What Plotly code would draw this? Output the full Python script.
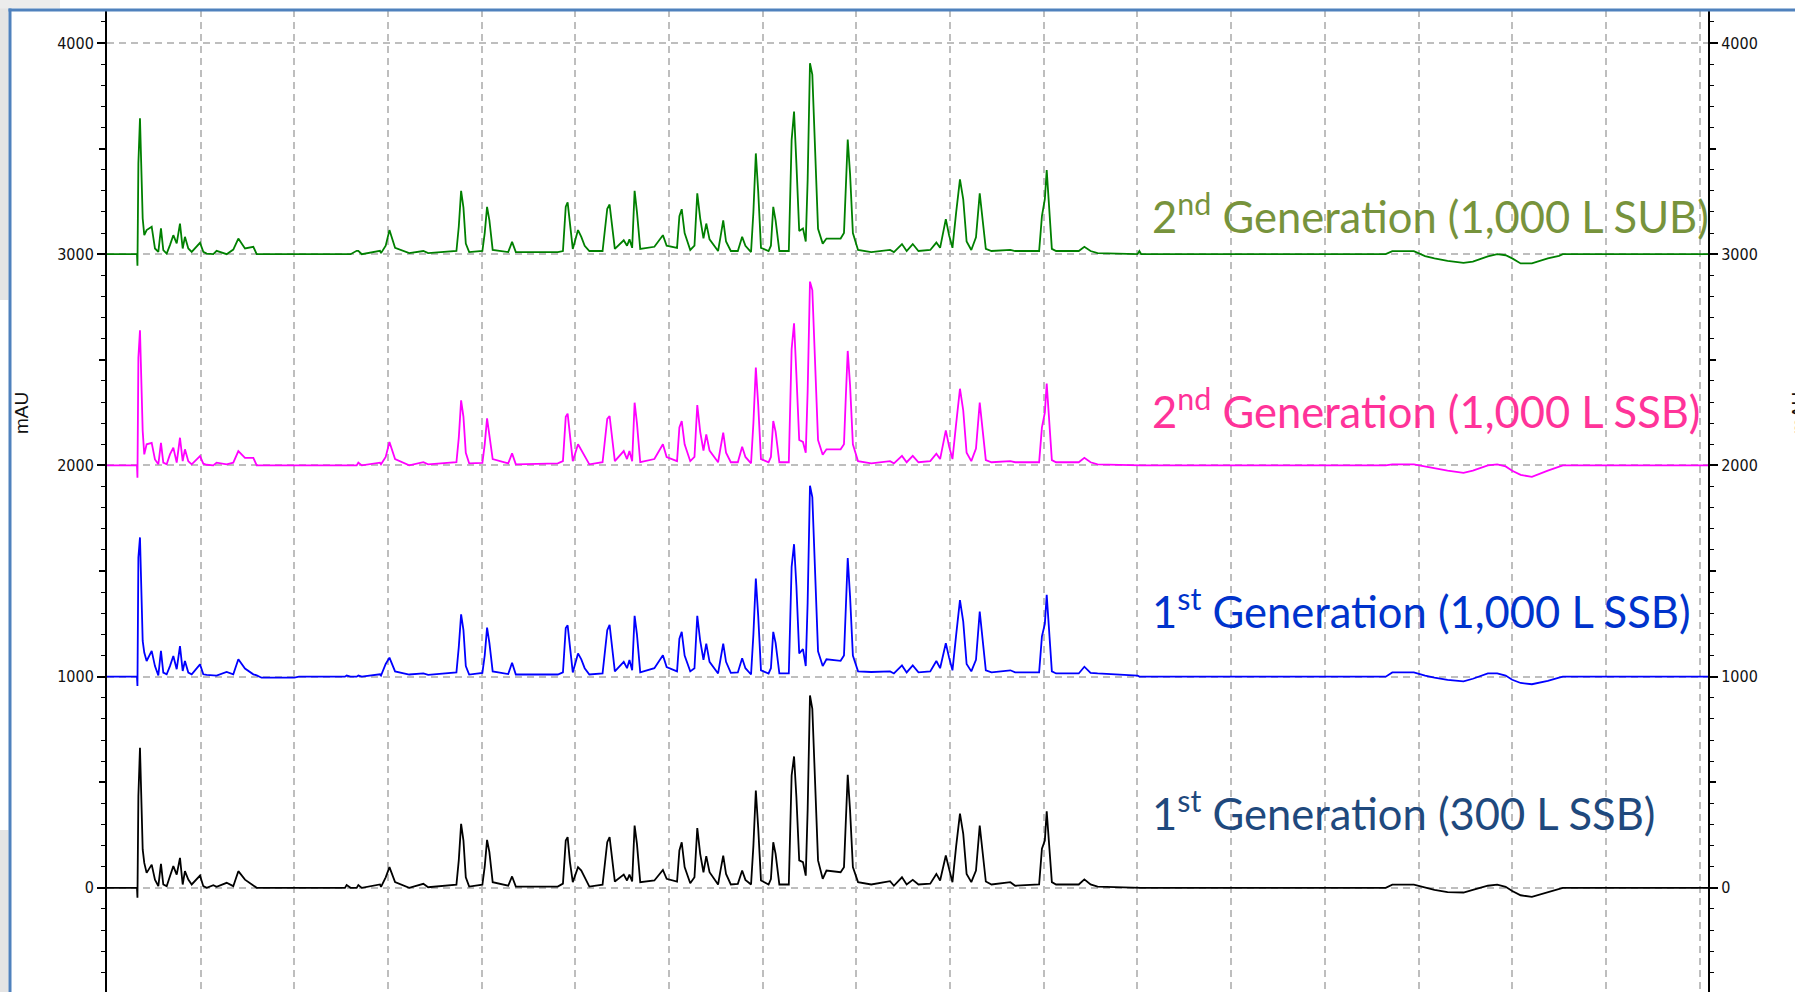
import plotly.graph_objects as go

# ---------------- data (retention time in grid units, absorbance in mAU) ----------------
rt = [0.00, 0.32, 0.325, 0.335, 0.352, 0.370, 0.381, 0.398, 0.423, 0.477,
      0.512, 0.548, 0.576, 0.601, 0.637, 0.672, 0.708, 0.744, 0.779, 0.808,
      0.832, 0.868, 0.904, 0.993, 1.028, 1.064, 1.135, 1.170, 1.277, 1.348,
      1.402, 1.473, 1.562, 1.598, 1.65, 2.00, 2.05, 2.54, 2.558, 2.60,
      2.665, 2.683, 2.72, 2.914,
      2.925, 2.975, 3.015, 3.075, 3.226, 3.377, 3.428, 3.730, 3.755, 3.780,
      3.805, 3.830, 3.866, 4.007, 4.032, 4.057, 4.082, 4.117, 4.283, 4.324,
      4.364, 4.812, 4.867, 4.897, 4.917, 4.942, 4.972, 5.028, 5.063, 5.099,
      5.149, 5.290, 5.340, 5.365, 5.391, 5.421, 5.516, 5.551, 5.577, 5.606,
      5.632, 5.657, 5.692, 5.843, 5.934, 5.974, 6.085, 6.110, 6.135, 6.166,
      6.226, 6.271, 6.301, 6.332, 6.367, 6.397, 6.432, 6.523, 6.548, 6.578,
      6.608, 6.659, 6.734, 6.780, 6.815, 6.875, 6.900, 6.926, 6.951, 6.981,
      7.062, 7.087, 7.112, 7.137, 7.177, 7.278, 7.308, 7.334, 7.359, 7.389,
      7.429, 7.459, 7.479, 7.504, 7.529, 7.555, 7.590, 7.640, 7.680, 7.831,
      7.867, 7.887, 7.907, 7.932, 7.962, 8.017, 8.158, 8.359, 8.400, 8.486,
      8.536, 8.601, 8.662, 8.788, 8.853, 8.893, 8.954, 8.989, 9.025, 9.065,
      9.105, 9.140, 9.176, 9.226, 9.276, 9.316, 9.346, 9.381, 9.442, 9.643,
      9.694, 9.950, 9.980, 10.011, 10.031, 10.056, 10.086, 10.131, 10.373, 10.433,
      10.499, 10.574,
      11.00, 11.02, 11.04, 13.65, 13.72, 13.95, 14.07, 14.17, 14.31, 14.48,
      14.58, 14.74, 14.84, 14.93, 15.00, 15.09, 15.21, 15.38, 15.50, 15.54, 17.09]

gen1_300_ssb = [0, 0, -47, 434, 663, 332, 182, 118, 71, 110,
                39, 8, 114, 16, 8, 55, 103, 63, 142, 16,
                79, 39, 16, 58, 8, 0, 13, 5, 24, 8,
                79, 39, 8, 0, 0, 0, 0, 0, 13, 0,
                0, 13, 0, 16,
                5, 50, 98, 27, 0, 19, 3, 15, 130, 303,
                224, 50, 6, 15, 100, 227, 169, 27, 10, 54,
                6, 6, 20, 224, 240, 122, 27, 98, 82, 50,
                6, 15, 216, 240, 130, 30, 63, 35, 63, 30,
                295, 208, 27, 35, 85, 43, 30, 177, 216, 98,
                22, 50, 283, 161, 74, 150, 74, 16, 80, 153,
                66, 16, 19, 82, 38, 16, 200, 461, 287, 35,
                16, 42, 216, 161, 16, 16, 532, 622, 430, 130,
                122, 58, 367, 911, 848, 532, 130, 43, 82, 74,
                98, 319, 535, 367, 98, 27, 16, 32, 10, 50,
                16, 38, 16, 20, 66, 35, 153, 90, 27, 200,
                351, 256, 66, 27, 82, 295, 177, 30, 16, 27,
                10, 16, 185, 224, 362, 208, 27, 16, 16, 40,
                16, 6,
                3, 0, 0, 0, 15, 15, 0, -10, -20, -22,
                -10, 10, 15, 5, -15, -35, -43, -20, -5, 0, 0]

gen1_1000_ssb = [0, 0, -44, 564, 659, 319, 169, 114, 74, 122,
                 50, 6, 122, 19, 11, 50, 98, 35, 145, 27,
                 74, 19, 11, 58, 11, 8, 6, 5, 22, 11,
                 82, 38, 11, 6, -5, -5, 0, 0, 5, 0,
                 0, 5, 0, 11,
                 5, 60, 90, 25, 10, 15, 8, 20, 140, 295,
                 220, 50, 10, 18, 100, 232, 160, 25, 12, 66,
                 10, 10, 20, 230, 243, 130, 20, 110, 82, 40,
                 10, 15, 220, 245, 130, 25, 70, 40, 79, 30,
                 288, 200, 20, 40, 101, 45, 25, 180, 212, 100,
                 25, 40, 288, 170, 80, 156, 70, 15, 80, 156,
                 70, 18, 20, 87, 40, 10, 200, 464, 290, 30,
                 15, 40, 212, 160, 15, 15, 520, 627, 430, 110,
                 130, 50, 350, 904, 850, 520, 120, 50, 82, 75,
                 100, 330, 561, 380, 100, 25, 22, 25, 15, 53,
                 20, 53, 20, 25, 74, 40, 158, 90, 30, 200,
                 362, 260, 60, 25, 80, 308, 180, 30, 20, 30,
                 20, 20, 190, 250, 387, 210, 25, 15, 15, 47,
                 18, 15,
                 5, 0, 0, 0, 20, 20, 5, -5, -15, -22,
                 -10, 15, 15, 5, -15, -30, -36, -20, -5, 0, 0]

gen2_1000_ssb = [0, 0, -58, 510, 640, 321, 163, 52, 100, 107,
                 28, 5, 107, 13, 5, 52, 84, 13, 131, 20,
                 76, 20, 5, 44, 8, 3, 0, 13, 5, 13,
                 68, 36, 36, 0, 0, 0, 0, 0, 0, 0,
                 0, 13, 0, 13,
                 5, 40, 111, 30, 0, 15, 5, 15, 130, 308,
                 230, 60, 10, 12, 100, 223, 150, 30, 10, 57,
                 5, 10, 20, 230, 245, 130, 20, 100, 71, 40,
                 5, 15, 220, 234, 130, 20, 68, 30, 68, 20,
                 297, 200, 15, 30, 100, 40, 20, 180, 210, 100,
                 20, 40, 286, 160, 70, 147, 70, 15, 80, 155,
                 60, 15, 15, 88, 40, 10, 200, 463, 290, 30,
                 15, 40, 210, 160, 15, 15, 550, 673, 430, 120,
                 111, 60, 350, 870, 830, 530, 120, 50, 76, 76,
                 100, 330, 542, 380, 100, 20, 10, 20, 10, 45,
                 15, 45, 15, 20, 55, 30, 166, 90, 30, 200,
                 363, 260, 60, 20, 80, 297, 180, 25, 15, 20,
                 15, 15, 180, 250, 387, 210, 25, 15, 15, 36,
                 15, 5,
                 0, 0, 0, 0, 5, 5, -5, -15, -25, -35,
                 -25, 0, 5, -5, -25, -45, -54, -25, -8, 0, 0]

gen2_1000_sub = [0, 0, -55, 430, 643, 335, 169, 90, 114, 130,
                 27, 11, 122, 19, 3, 43, 90, 51, 145, 27,
                 82, 27, 11, 54, 11, 3, 0, 16, 0, 22,
                 74, 27, 35, 0, 0, 0, 0, 0, 0, 0,
                 16, 16, 0, 16,
                 5, 40, 114, 30, 5, 15, 5, 15, 130, 300,
                 220, 50, 10, 15, 100, 224, 160, 20, 10, 58,
                 10, 10, 15, 225, 245, 130, 25, 114, 82, 40,
                 15, 15, 215, 235, 130, 25, 66, 40, 70, 30,
                 300, 200, 25, 35, 90, 40, 30, 180, 213, 100,
                 20, 40, 288, 170, 75, 145, 70, 15, 80, 160,
                 60, 15, 15, 82, 40, 10, 200, 477, 300, 30,
                 15, 40, 224, 160, 15, 15, 540, 675, 430, 110,
                 122, 60, 350, 904, 850, 520, 120, 50, 74, 74,
                 100, 320, 543, 380, 100, 20, 10, 20, 10, 48,
                 15, 48, 15, 20, 55, 30, 166, 90, 30, 200,
                 354, 260, 60, 20, 80, 288, 170, 25, 15, 20,
                 15, 15, 180, 260, 398, 210, 25, 15, 15, 35,
                 15, 5,
                 0, 15, 0, 0, 14, 14, -9, -20, -32, -41,
                 -35, -10, 0, -5, -20, -44, -44, -20, -8, 0, 0]

series_names = ["1st Generation (300 L SSB)", "1st Generation (1,000 L SSB)",
                "2nd Generation (1,000 L SSB)", "2nd Generation (1,000 L SUB)"]
series_values = [gen1_300_ssb, gen1_1000_ssb, gen2_1000_ssb, gen2_1000_sub]
stack_offsets = [0, 1000, 2000, 3000]
line_colors = ["#000000", "#0000FF", "#FF00FF", "#008000"]

label_texts = ["1<sup>st</sup> Generation (300 L SSB)",
               "1<sup>st</sup> Generation (1,000 L SSB)",
               "2<sup>nd</sup> Generation (1,000 L SSB)",
               "2<sup>nd</sup> Generation (1,000 L SUB)"]
label_colors = ["#1F497D", "#0033CC", "#FF3399", "#77933C"]
label_ypix = [810, 608, 408, 213]

y_major = [0, 1000, 2000, 3000, 4000]
y_half = [500, 1500, 2500, 3500]
y_minor = list(range(-400, 4200, 100))
x_grid = list(range(1, 18))

for vals in series_values:
    assert len(vals) == len(rt), (len(vals), len(rt))

# ---------------- layout geometry ----------------
W, H = 1795, 992
ML, MR, MT, MB = 107, 87, 10, 0
PW, PH = W - ML - MR, H - MT - MB


def px_x(px):
    return (px - ML) / PW


def px_y(py):
    return (H - MB - py) / PH


YR = [-493, 4156]
XR = [0, 17.09]

fig = go.Figure()
for vals, off, col, name in zip(series_values, stack_offsets, line_colors, series_names):
    fig.add_trace(go.Scatter(
        x=rt, y=[v + off for v in vals], mode="lines", name=name,
        line=dict(color=col, width=1.8), showlegend=False, hoverinfo="skip"))

tick_font = dict(family="Liberation Sans Narrow, DejaVu Sans Condensed, Arial Narrow, sans-serif",
                 size=16, color="#111111")
grid_col = "#BEBEBE"

common_y = dict(
    range=YR, tickmode="array", tickvals=y_major, ticktext=[str(v) for v in y_major],
    ticks="outside", ticklen=8, tickwidth=1.6, tickcolor="black",
    showline=True, linecolor="black", linewidth=2, zeroline=False,
    tickfont=tick_font, fixedrange=True,
    minor=dict(tickmode="array", tickvals=y_minor, ticks="outside", ticklen=4,
               tickwidth=1.3, tickcolor="black", showgrid=False),
)
half_y = dict(range=YR, overlaying="y", anchor="x", tickmode="array", tickvals=y_half,
              ticks="outside", ticklen=7, tickwidth=1.6, tickcolor="black",
              showticklabels=False, showgrid=False, showline=False, zeroline=False)

fig.update_layout(
    width=W, height=H,
    margin=dict(l=ML, r=MR, t=MT, b=MB, pad=0),
    paper_bgcolor="white", plot_bgcolor="white",
    xaxis=dict(range=XR, tickmode="array", tickvals=x_grid, showticklabels=False,
               ticks="", showgrid=True, gridcolor=grid_col, griddash="7px,5px",
               gridwidth=1.5, zeroline=False, showline=False, fixedrange=True),
    yaxis=dict(**common_y, side="left", showgrid=True, gridcolor=grid_col,
               griddash="7px,5px", gridwidth=1.5),
    yaxis2=dict(**common_y, overlaying="y", side="right", anchor="x", showgrid=False),
    yaxis3=dict(**half_y, side="left"),
    yaxis4=dict(**half_y, side="right"),
    hovermode=False,
)

# invisible traces so the overlay axes are drawn
fig.add_trace(go.Scatter(x=[None], y=[None], yaxis="y2", showlegend=False, hoverinfo="skip"))
fig.add_trace(go.Scatter(x=[None], y=[None], yaxis="y3", showlegend=False, hoverinfo="skip"))
fig.add_trace(go.Scatter(x=[None], y=[None], yaxis="y4", showlegend=False, hoverinfo="skip"))

annotations = []
for txt, col, ypx in zip(label_texts, label_colors, label_ypix):
    annotations.append(dict(
        text=txt, xref="paper", yref="paper", x=px_x(1150), y=px_y(ypx),
        xanchor="left", yanchor="middle", showarrow=False,
        font=dict(family="Lato, Carlito, Calibri, 'Open Sans', sans-serif", size=43.5, color=col)))

axis_title_font = dict(family="Liberation Sans, Arial, sans-serif", size=19, color="#111111")
annotations.append(dict(text="mAU", xref="paper", yref="paper", x=px_x(21), y=px_y(413),
                        xanchor="center", yanchor="middle", textangle=-90, showarrow=False,
                        font=axis_title_font))
annotations.append(dict(text="mAU", xref="paper", yref="paper", x=px_x(1798), y=px_y(413),
                        xanchor="center", yanchor="middle", textangle=-90, showarrow=False,
                        font=axis_title_font))

shapes = [
    # slide background tint on the left edge
    dict(type="rect", xref="paper", yref="paper", x0=px_x(0), x1=px_x(8.5), y0=px_y(300), y1=px_y(0),
         fillcolor="#E4E4E4", line=dict(width=0), layer="above"),
    dict(type="rect", xref="paper", yref="paper", x0=px_x(0), x1=px_x(8.5), y0=px_y(992), y1=px_y(830),
         fillcolor="#E4E4E4", line=dict(width=0), layer="above"),
    dict(type="rect", xref="paper", yref="paper", x0=px_x(0), x1=px_x(60), y0=px_y(8.5), y1=px_y(0),
         fillcolor="#ECECEC", line=dict(width=0), layer="above"),
    # slide frame
    dict(type="line", xref="paper", yref="paper", x0=px_x(10), x1=px_x(10), y0=px_y(992), y1=px_y(8.5),
         line=dict(color="#4F81BD", width=3), layer="above"),
    dict(type="line", xref="paper", yref="paper", x0=px_x(8.5), x1=px_x(1795), y0=px_y(10), y1=px_y(10),
         line=dict(color="#4F81BD", width=3), layer="above"),
]

fig.update_layout(annotations=annotations, shapes=shapes)
fig.write_html("out.html",
               config={"displayModeBar": False, "staticPlot": False},
               post_script="document.body.style.margin='0';document.body.style.overflow='hidden';")
